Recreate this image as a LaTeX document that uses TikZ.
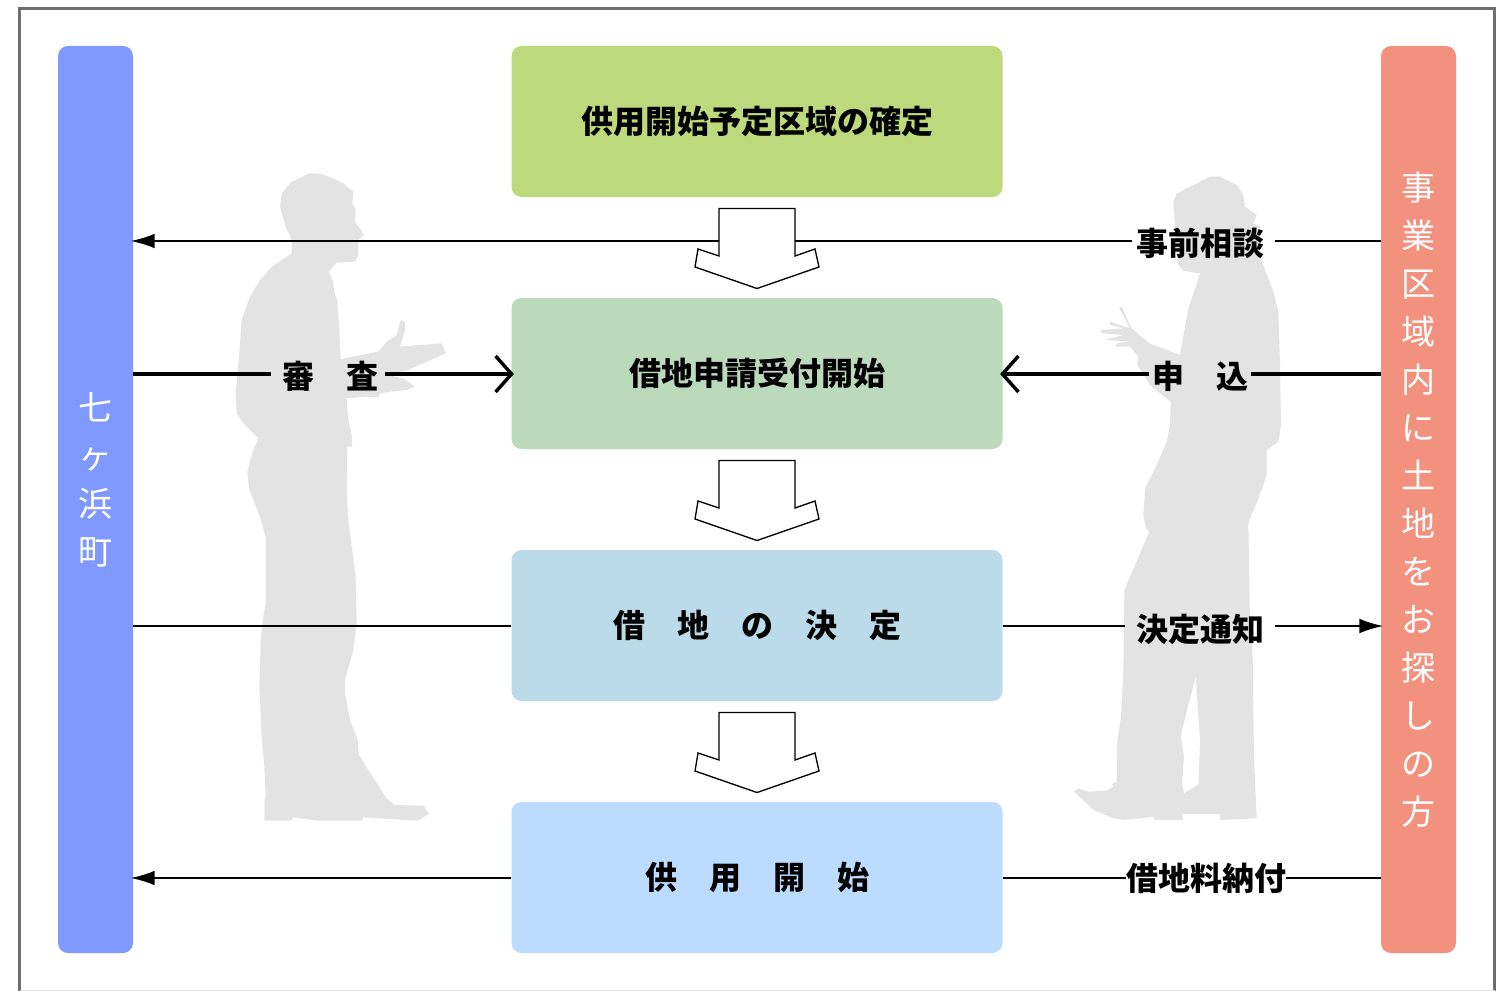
\documentclass[tikz,border=0pt]{standalone}
\usepackage{fontspec}
\usetikzlibrary{arrows.meta}
\newfontfamily\cjk{Noto Sans CJK JP}
\definecolor{framegray}{HTML}{6E6E6E}
\definecolor{mangray}{HTML}{E3E3E3}
\definecolor{barblue}{HTML}{8099FF}
\definecolor{barred}{HTML}{F2917E}
\definecolor{stepa}{HTML}{BCD97B}
\definecolor{stepb}{HTML}{BBD9BB}
\definecolor{stepc}{HTML}{BBDBEB}
\definecolor{stepd}{HTML}{BBDBFF}
\tikzset{
  stepbox/.style={rounded corners=7.5pt,minimum width=368.25pt,minimum height=113.25pt,inner sep=0pt,font=\cjk\bfseries\fontsize{24}{28}\selectfont},
  sidebar/.style={rounded corners=7.5pt,minimum width=56.25pt,minimum height=680.25pt,inner sep=0pt},
  sidetext/.style={text=white,align=center,inner sep=0pt,font=\cjk\fontsize{25.5}{36}\selectfont},
  linklabel/.style={inner sep=0pt,font=\cjk\bfseries\fontsize{24}{28}\selectfont},
  thinlink/.style={line width=1.5pt},
  thicklink/.style={line width=2.6pt},
  filltip/.style={-{Latex[length=18pt,width=11pt]},shorten >=-2pt},
  barbtip/.style={-{Straight Barb[length=12pt,width=27pt,line width=2.6pt]},shorten >=-2pt},
  blockarrow/.style={draw,fill=white,line width=1pt,line join=miter}
}
\begin{document}
\begin{tikzpicture}[x=0.75pt,y=-0.75pt]
\useasboundingbox (0,0) rectangle (1506,991);
%frame
\draw [framegray,line width=2.8pt] (19.5,991)--(19.5,8.5)--(1494.5,8.5)--(1494.5,991);
\draw [black!12,line width=1pt] (19.5,990.5)--(1494.5,990.5);
%left man
\begin{scope}[shift={(220,160)},x=0.25pt,y=-0.25pt]
\fill [mangray] (270,40)--(305,42)--(340,55)--(370,70)--(400,95)--(397,130)--(407,150)--(405,185)--(432,225)--(415,240)--(415,285)--(405,305)--(350,308)--(327,335)--(340,365)--(342,395)--(352,420)--(358,510)--(362,600)--(372,595)--(475,575)--(500,545)--(530,525)--(542,480)--(555,485)--(555,510)--(540,560)--(600,555)--(665,550)--(677,580)--(620,605)--(560,632)--(500,645)--(550,655)--(585,680)--(560,690)--(510,695)--(480,700)--(475,712)--(440,710)--(380,715)--(385,780)--(395,825)--(397,860)--(382,860)--(380,990)--(385,1080)--(407,1250)--(410,1390)--(400,1470)--(375,1560)--(375,1600)--(390,1680)--(413,1740)--(416,1785)--(500,1915)--(525,1935)--(610,1937)--(627,1960)--(595,1982)--(430,1972)--(427,1982)--(290,1982)--(220,1972)--(212,1982)--(133,1982)--(133,1920)--(137,1910)--(133,1820)--(125,1730)--(118,1580)--(122,1440)--(130,1370)--(137,1330)--(137,1130)--(120,1070)--(88,990)--(82,935)--(95,885)--(115,835)--(70,790)--(50,760)--(47,700)--(58,580)--(65,480)--(90,410)--(120,360)--(155,320)--(215,280)--(215,240)--(195,195)--(180,140)--(185,100)--(215,65)--cycle;
\end{scope}
%right man
\begin{scope}[shift={(1060,165)},x=0.25pt,y=-0.25pt]
\fill [mangray,even odd rule] (450,35)--(480,35)--(530,60)--(550,90)--(555,125)--(590,150)--(580,175)--(600,185)--(600,280)--(610,300)--(640,380)--(655,440)--(660,600)--(663,780)--(655,830)--(620,855)--(620,930)--(605,975)--(565,1075)--(570,1375)--(578,1475)--(582,1775)--(588,1915)--(590,1960)--(480,1965)--(480,1947)--(368,1947)--(368,1965)--(282,1965)--(282,1955)--(190,1965)--(160,1960)--(100,1935)--(42,1880)--(55,1870)--(85,1880)--(140,1877)--(160,1865)--(155,1857)--(170,1850)--(172,1730)--(183,1655)--(190,1525)--(193,1275)--(268,1100)--(258,1090)--(250,1050)--(255,975)--(255,970)--(290,900)--(320,830)--(330,780)--(332,710)--(270,660)--(232,600)--(235,575)--(210,545)--(165,545)--(170,535)--(210,530)--(135,525)--(190,510)--(125,505)--(122,495)--(190,490)--(150,480)--(150,470)--(210,490)--(178,430)--(185,425)--(215,490)--(268,535)--(360,570)--(385,430)--(410,355)--(420,325)--(370,318)--(355,300)--(350,280)--(345,180)--(340,110)--(350,85)--(400,60)--cycle
 (407,1535)--(362,1710)--(372,1775)--(366,1855)--(372,1885)--(405,1865)--(416,1855)--(420,1725)--cycle;
\end{scope}
%bars
\node [sidebar,fill=barblue] (town) at (95.5,499.5) {};
\node [sidebar,fill=barred] (applicant) at (1418.5,499.5) {};
\node [sidetext] (towntext) at (95.5,480) {七\\ヶ\\浜\\町};
\node [sidetext] (applicanttext) at (1418.5,500) {事\\業\\区\\域\\内\\に\\土\\地\\を\\お\\探\\し\\の\\方};
%steps
\node [stepbox,fill=stepa] (fix) at (757,121.5) {供用開始予定区域の確定};
\node [stepbox,fill=stepb] (accept) at (757,373.5) {借地申請受付開始};
\node [stepbox,fill=stepc] (decide) at (757,625.5) {借　地　の　決　定};
\node [stepbox,fill=stepd] (start) at (757,877.5) {供　用　開　始};
%labels
\node [linklabel] (consult) at (1200,243) {事前相談};
\node [linklabel] (review) at (330,376) {審　査};
\node [linklabel] (apply) at (1200,376) {申　込};
\node [linklabel] (notice) at (1200,629) {決定通知};
\node [linklabel] (rent) at (1206,878) {借地料納付};
\coordinate (ya) at (0,241);
\coordinate (yb) at (0,374);
\coordinate (yc) at (0,626);
\coordinate (yd) at (0,878);
%links
\draw [thinlink,filltip,shorten <=3pt] (consult.west |- ya) -- (town.east |- ya);
\draw [thinlink,shorten >=8pt] (applicant.west |- ya) -- (consult.east |- ya);
\draw [thicklink,shorten >=8pt] (town.east |- yb) -- (review.west |- yb);
\draw [thicklink,barbtip,shorten <=5pt] (review.east |- yb) -- (accept.west |- yb);
\draw [thicklink,shorten >=2pt] (applicant.west |- yb) -- (apply.east |- yb);
\draw [thicklink,barbtip,shorten <=2pt] (apply.west |- yb) -- (accept.east |- yb);
\draw [thinlink] (town.east |- yc) -- (decide.west |- yc);
\draw [thinlink,shorten >=8pt] (decide.east |- yc) -- (notice.west |- yc);
\draw [thinlink,filltip,shorten <=8pt] (notice.east |- yc) -- (applicant.west |- yc);
\draw [thinlink,filltip] (start.west |- yd) -- (town.east |- yd);
\draw [thinlink] (start.east |- yd) -- (rent.west |- yd);
\draw [thinlink] (rent.east |- yd) -- (applicant.west |- yd);
%block arrows
\foreach \shift in {0,252,504} {
\begin{scope}[shift={(0,\shift)}]
\draw [blockarrow] (719,208.5)--(795,208.5)--(795,256)--(815,249)--(819,267)--(757,288.5)--(695,267)--(698,249)--(719,256)--cycle;
\end{scope}
}
\end{tikzpicture}
\end{document}
